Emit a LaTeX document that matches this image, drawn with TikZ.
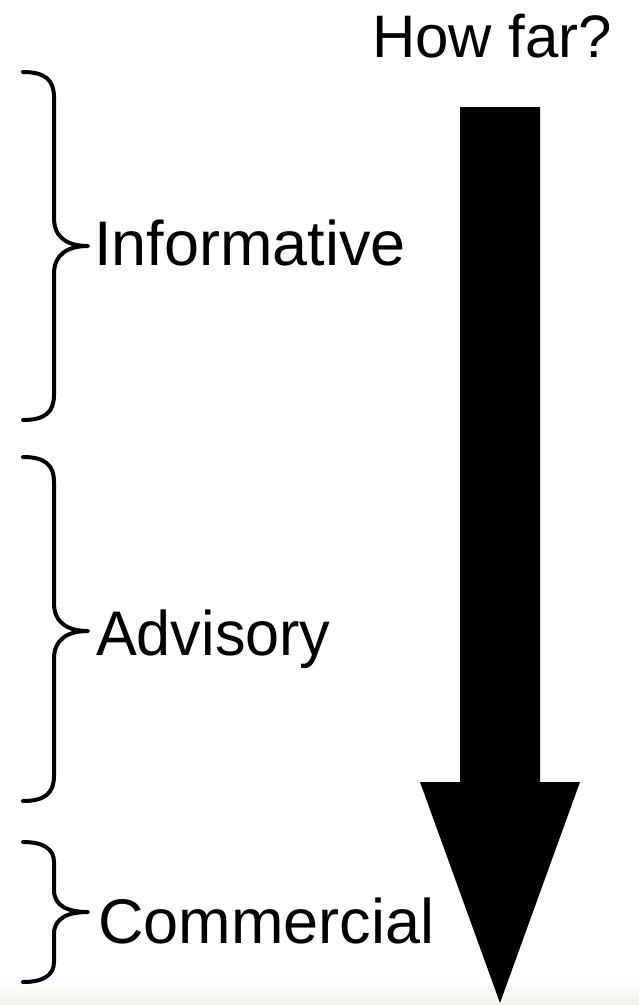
\documentclass[tikz,border=0pt]{standalone}
\usepackage{fontspec}
\setmainfont{Liberation Sans}
\begin{document}
\begin{tikzpicture}[x=1pt,y=-1pt,
  bracestyle/.style={line width=4pt,line cap=round,line join=round},
  lbl/.style={anchor=base west,inner sep=0pt,font=\fontsize{63}{63}\selectfont}]
\useasboundingbox (0,0) rectangle (639,1005);
\fill[white] (0,0) rectangle (639,1005);
\shade[top color=white,bottom color={rgb,255:red,238;green,243;blue,224}] (0,982) rectangle (639,1005);
% arrow
\fill[black] (460,107) -- (540,107) -- (540,782) -- (580,782) -- (500,1003) -- (420,782) -- (460,782) -- cycle;
% braces
\draw[bracestyle] (23,72) .. controls (45,72) and (54,80) .. (54,97) -- (54,218) .. controls (54,238) and (68,246) .. (88,246) .. controls (68,246) and (54,254) .. (54,274) -- (54,395) .. controls (54,412) and (45,420) .. (23,420);
\draw[bracestyle] (23,457) .. controls (45,457) and (54,465) .. (54,482) -- (54,603) .. controls (54,623) and (68,631) .. (88,631) .. controls (68,631) and (54,639) .. (54,659) -- (54,776) .. controls (54,793) and (45,801) .. (23,801);
\draw[bracestyle] (23,842) .. controls (42,842) and (54,848) .. (54,862) -- (54,890) .. controls (54,906) and (68,912) .. (88,912) .. controls (68,912) and (54,918) .. (54,934) -- (54,962) .. controls (54,976) and (42,982) .. (23,982);
% labels
\node[lbl,font=\fontsize{60}{60}\selectfont] (howfar) at (372,57) {How far?};
\node[lbl] (inf) at (94,265) {Informative};
\node[lbl,xscale=0.97] (adv) at (96,655) {Advisory};
\node[lbl] (com) at (98,943) {Commercial};
\end{tikzpicture}
\end{document}
